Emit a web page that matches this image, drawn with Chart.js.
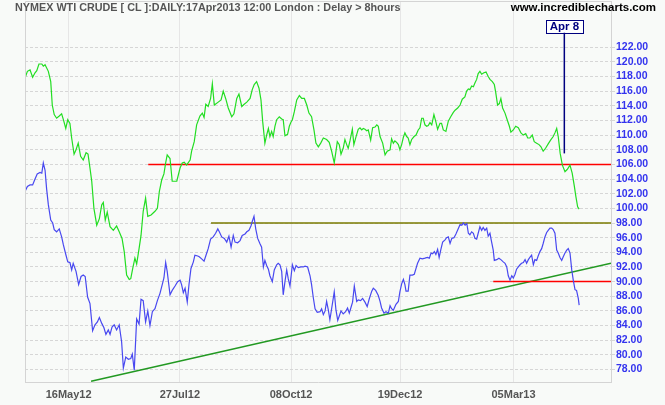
<!DOCTYPE html>
<html>
<head>
<meta charset="utf-8">
<script src="https://cdn.jsdelivr.net/npm/chart.js@4.4.1/dist/chart.umd.min.js"></script>
<style>
  html, body { margin: 0; padding: 0; background: #f8faf8; }
  canvas { display: block; }
</style>
</head>
<body>
<canvas id="crudeChart" width="665" height="405"></canvas>
<script>
// x = trading session index, 0 = 18Apr12
var tickDays = [20, 71, 122, 172, 224];
var tickLabels = ["16May12", "27Jul12", "08Oct12", "19Dec12", "05Mar13"];

var brentDays = [0,1.1,2.3,3.5,4.6,5.4,6.4,7.7,8.4,9.2,10.7,11.8,12.5,13.4,14.5,15.7,16.8,17.6,18.7,19.6,20.6,21.4,22.5,23.4,24.4,25.5,26.7,28,28.9,29.8,30.6,31.6,32.9,34.1,35.2,35.9,36.8,37.7,39,40.5,42,43.2,44.5,45.5,46.6,47.8,48.5,49.4,50.4,51.2,52.3,53.2,54.2,55.3,56.3,57.8,59.6,60.7,61.6,62.7,63.7,64.5,
  65.2,66.5,67.5,69.6,71.1,72.1,73,74.1,75.7,76.4,77.6,78.7,80.2,81.3,82.1,82.9,84,85.1,85.9,86.8,88.6,89.9,90.9,92,93.2,94.8,95.8,97.1,98.1,99.4,100.5,101.7,103.2,104.2,105.1,106.2,107.3,108.2,109,110,110.8,111.6,112.3,113.1,113.8,114.6,115.4,116.6,117.7,118.4,119.2,120.4,121.2,122,122.6,123.5,124.6,125.8,126.9,128.1,129.2,130.2,
  131.4,132.5,133.4,134.5,135.6,136.8,138.3,139.5,140.6,141.8,142.6,143.2,144.1,144.9,145.9,146.7,147.5,148.2,149,150.1,150.8,151.8,152.8,153.6,154.4,155.1,155.9,156.7,157.4,158.5,159.4,160.5,161.3,162,162.8,164,165.1,166.1,167.4,168.1,168.9,169.6,170.4,171.2,171.9,172.7,173.5,174.2,175,175.7,176.5,177.3,178.4,179.3,180.3,181.1,181.9,182.6,183.4,184.2,184.9,185.7,186.5,187.5,188.4,189.2,190.3,191,191.8,193,194.1,195.2,196.4,
  197.2,198.4,199.5,200.5,201.7,202.5,203.3,204,204.8,205.6,206.3,207.1,207.8,208.6,209.4,210.4,211.4,212.4,213.2,214.3,215.2,215.8,216.7,217.5,218.2,219,220.1,221.1,222.1,222.8,223.9,225,226.2,227.4,228.5,229.6,230.5,231.5,232.6,233.5,234.6,235.7,236.6,237.6,238.7,239.9,241,242.2,243,243.8,244.5,245.4,246.4,247.6,248.6,249.9,250.9,251.9,252.6,253.4,254.1];
var brentClose = [117.8,118.7,118.9,117.9,118.5,118.8,119.7,119.7,119.4,119.6,118.7,117.3,114.1,112.8,112.3,112.6,112.9,112.1,110.9,112.1,111.6,109.6,107.4,108,108.9,107.1,106.6,107.6,107.4,105.5,103.7,100,97.7,98.6,100.5,100.8,98.4,99.5,97.5,97,97.6,96.8,95.9,94.1,90.9,90.3,90.4,91.8,93.2,92.4,94.5,96.3,99.6,101.4,98.9,99.1,99.6,100,102.3,103.9,104.7,106.2,
  107.3,106.8,103.7,103.7,105.5,106.2,106.3,105.9,106.6,107.8,109.1,111.4,112.6,113,112.4,114.2,113.9,115,117,114.1,114.5,114.8,116,115,113.7,112.5,112.9,115,115.6,113.9,114.2,114.5,115,116.2,116.9,117.3,116.4,114.8,111.8,108.9,110,110.9,109.8,110.5,109.8,111.2,112.1,112.5,112.2,112.1,109.9,110.1,111.2,111.8,112.1,113.2,114.8,115.4,115,115,114.1,113,
  112.5,110.7,108.9,108.4,108.9,109.6,109.4,109,107.8,106.2,107.8,109.1,108.7,107.4,108.2,109.4,108.7,108.2,109.2,110.8,108.7,109.8,110.8,111,110.7,110.9,110.8,110.6,110.7,109.3,111,111.1,111.4,111.2,109.8,108.9,107.3,107.8,108,109.5,108.9,109.2,109,108.7,108,108.7,109.7,110.3,109.8,109.6,108.7,109.4,109.8,110,110.7,111,112.3,112.3,111.4,111.2,111.3,111.7,111.4,112.8,111.8,110.8,111.6,111.6,110.7,110.5,111.9,112.5,113.1,
  113.4,113.7,114.1,114.9,115.2,116,116.3,116.2,116.7,116.6,117.1,117.6,118.4,118.7,118.3,118.5,118.6,118,117.6,117.3,116.9,115.9,114.1,114.3,115,113.7,113,112.1,111.2,110.4,110.7,111.2,111,110.3,110,110.2,109.6,109.6,110,109.1,108.9,108.7,108.4,107.8,108.2,108.8,109.3,109.8,110.3,110.9,109.8,107.5,105.9,105,105.3,105.9,104.8,103,101.6,100.2,99.9];

var wtiDays = [0,1.1,2.3,3.5,4.6,5.6,6.9,7.7,8.4,9.2,9.9,10.7,11.8,12.7,13.4,14.5,15.7,16.8,17.6,18.8,19.6,20.6,21.4,22.1,23.4,24.6,25.7,26.7,27.6,28.7,29.8,31,32.1,33.2,34.1,35.2,36.2,37.1,38.2,39,39.9,40.9,42,43.2,44.3,45.1,46.2,47.4,48.5,49.2,50.1,51.2,52.3,53.2,54.2,55.3,56.3,57.3,58.4,59.6,60.7,61.9,63.1,63.7,64.5,
  65.2,66.5,67.5,68.8,70,71.1,71.8,72.6,73.4,74.4,75.2,76.1,77.2,77.9,79.2,79.9,81,82.1,83,84,85.1,86.3,87.4,88.4,89.1,90.2,91.4,92.5,93.5,94.5,95.5,96.3,97.5,98.6,99.6,100.9,101.7,102.7,103.6,104.2,105,105.8,106.7,107.7,108.5,109.3,110,110.8,111.6,112.3,113.4,114.3,115.4,116.1,116.9,117.7,118.4,119.2,120,120.7,121.5,122.6,123.5,124.3,125.3,126.5,127.6,128.4,129.6,
  130.7,131.4,132.2,133,134,135.3,136,136.8,137.6,138.3,139.1,139.8,140.6,141.8,142.6,143.4,144.1,144.9,145.9,147,147.9,148.7,149.5,150.2,151,152.1,152.8,153.9,154.8,155.9,156.9,157.9,159,159.7,160.8,162,162.8,163.5,164.6,165.5,166.6,167.4,168.1,168.9,170.1,171.2,171.9,172.7,173.5,174.2,174.7,175.7,176.5,177.6,178.5,179.3,180,181.1,182.2,183.4,184.5,185.4,186.2,186.9,187.7,188.4,189.2,189.9,190.7,191.5,192.6,193.3,194.1,194.9,195.7,196.7,
  197.6,198.5,199.5,200.3,201,201.8,202.6,203.3,204,204.8,205.6,206.3,207.1,207.8,208.6,209.4,210.1,210.9,211.7,212.4,213.2,213.9,214.7,215.2,216.3,217.3,218.2,219.3,220.1,220.9,221.6,222.4,223.2,223.9,224.7,225.4,226.2,227,227.7,228.5,229.3,230,230.8,231.5,232.3,233.1,233.8,234.6,235.3,236.1,236.9,237.6,238.4,239.2,239.9,240.7,241.5,242.2,243,243.8,244.5,245.3,246.1,246.8,247.6,248.4,249.1,249.9,250.7,251.4,252.2,252.9,253.7,254.1];
var wtiClose = [102.3,103,103.2,103.2,104,104.7,104.9,104.8,106.2,105.2,102.7,100.5,98.4,98,97.1,96.8,97.2,96.1,95,93.6,92.7,92.6,91.6,92.5,91.4,89.6,90.7,90.9,90.7,87.9,87,83.3,84.1,84.5,85.1,84.3,83.7,82.8,83.4,82.8,83.8,84.1,83.4,84.1,81.8,78.2,79.7,79.4,79.5,80.1,77.9,84.9,84.2,87.6,87.4,84.5,86,84,85.9,86.3,87.4,88.4,89.8,90.5,92.6,
  91.4,88.2,88.8,89.4,90,90.2,89.6,88.5,89.1,87.2,89.6,91.8,92.7,93.6,93.5,93.4,93.1,92.8,93.6,94.5,95.8,96.1,96.6,97.2,96.8,96.1,95.9,95.4,96.2,94.7,96.3,95.4,95.3,95.6,96.3,96.5,96.8,97,97.6,98.2,98.9,97.2,95.9,95.2,94.7,92,92.9,92.2,91.7,90.8,90,91.6,92.3,92.5,92.3,91.4,88.2,90,91.6,90.4,89.4,92.3,91.5,92.2,91.9,92,92,92.1,92,
  90.8,89.6,87.8,86.3,85.8,85.9,86.3,85.5,86,87.3,86.1,84.8,86.3,88.6,86.1,84.7,85.3,86,85.6,85.9,86.4,85.7,86.5,87.2,89.4,87.3,87.5,87.4,87.7,87.2,86.6,87.7,88.7,89.1,88.8,88.1,87.3,86.4,85.7,85.9,85.7,86.7,86.3,86.1,86.9,87.3,88.6,89.7,90.3,89.6,88.7,88.7,90.9,90.9,91,91.8,92.5,93.2,93.1,93.2,93.3,93.2,93.9,93.8,94.1,93.7,94.4,93.3,94.4,95.4,95.7,96,96.1,95.2,95.9,96,
  96.5,97.1,97.8,97.7,98,97.7,97.9,96.6,96.4,96.8,96.6,95.9,95.8,96.6,97.5,97,97.4,97,97.3,96.2,96.6,95.5,94.3,92.9,93,93.2,93,92.7,92.5,92,90.8,90.2,90.8,90.5,91,91.7,92,92.3,92.5,92.6,93,92.5,93,93.3,93.6,92.3,93,92.9,93.5,94.1,94.5,95.2,96.1,96.7,97,97.3,97.3,97.1,96.6,94.3,93.9,93.3,92.9,93.4,93.9,94.3,94.5,93.9,91.6,90.2,88.9,88.8,87.7,86.8];

// horizontal support / resistance lines: start session and level
var levelStarts = [56.5, 85.3, 214.7];
var levelValues = [106, 98, 90];
var levelColors = ["#ff0000", "#7a7a00", "#ff0000"];

// rising trend line
var trendDays = [30.3, 268.7];
var trendValues = [76.4, 92.5];

// Apr 8 marker
var markerDay = 247.3;
var markerValues = [107.5, 124.0];
var markerLabel = "Apr 8";

var xMax = 268.7;
var FONT = "'Liberation Sans', Arial, sans-serif";

function pairs(xs, ys) {
  return xs.map(function (x, i) { return { x: x, y: ys[i] }; });
}

var datasets = [
  { data: pairs(brentDays, brentClose), borderColor: "#22dd22", borderWidth: 1.2 },
  { data: pairs(wtiDays, wtiClose), borderColor: "#4848f0", borderWidth: 1.2 },
];
levelValues.forEach(function (v, i) {
  datasets.push({ data: pairs([levelStarts[i], xMax], [v, v]), borderColor: levelColors[i], borderWidth: 1.5 });
});
datasets.push({ data: pairs(trendDays, trendValues), borderColor: "#229922", borderWidth: 1.5 });
datasets.push({ data: pairs([markerDay, markerDay], markerValues), borderColor: "#000080", borderWidth: 1.5 });
datasets.forEach(function (d) {
  d.pointRadius = 0;
  d.fill = false;
  d.tension = 0;
});

var chartFrame = {
  id: "chartFrame",
  beforeDraw: function (chart) {
    var ctx = chart.ctx;
    ctx.save();
    ctx.fillStyle = "#f8faf8";
    ctx.fillRect(0, 0, chart.width, chart.height);
    ctx.restore();
  },
  afterDraw: function (chart) {
    var ctx = chart.ctx;
    var a = chart.chartArea;
    ctx.save();
    // left and top frame
    ctx.strokeStyle = "#d4d4d4";
    ctx.lineWidth = 1;
    ctx.beginPath();
    ctx.moveTo(a.left + 0.5, a.bottom);
    ctx.lineTo(a.left + 0.5, a.top + 0.5);
    ctx.lineTo(a.right, a.top + 0.5);
    ctx.stroke();

    // header texts
    ctx.textBaseline = "middle";
    ctx.font = "bold 10.8px " + FONT;
    ctx.fillStyle = "#555555";
    ctx.textAlign = "left";
    ctx.fillText("NYMEX WTI CRUDE [ CL ]:DAILY:17Apr2013 12:00 London : Delay > 8hours", 15, 8);
    ctx.font = "bold 11.5px " + FONT;
    ctx.fillStyle = "#000000";
    ctx.textAlign = "right";
    ctx.fillText("www.incrediblecharts.com", 656, 8);

    // Apr 8 label box
    var px = chart.scales.x.getPixelForValue(markerDay);
    var py = chart.scales.y.getPixelForValue(markerValues[1]);
    ctx.font = "bold 11.5px " + FONT;
    var w = ctx.measureText(markerLabel).width + 8;
    var h = 13;
    ctx.fillStyle = "#ffffff";
    ctx.fillRect(px - w / 2, py - h, w, h);
    ctx.strokeStyle = "#000080";
    ctx.lineWidth = 1;
    ctx.strokeRect(Math.round(px - w / 2) + 0.5, Math.round(py - h) + 0.5, Math.round(w), h);
    ctx.fillStyle = "#000080";
    ctx.textAlign = "center";
    ctx.fillText(markerLabel, px, py - h / 2 + 0.5);
    ctx.restore();
  },
};

var ctx = document.getElementById("crudeChart").getContext("2d");
var crudeChart = new Chart(ctx, {
  type: "line",
  data: { datasets: datasets },
  options: {
    responsive: false,
    animation: false,
    devicePixelRatio: 1,
    layout: { padding: { left: 25, top: 1, right: 0, bottom: 0 } },
    plugins: { legend: { display: false }, tooltip: { enabled: false } },
    scales: {
      x: {
        type: "linear",
        min: 0,
        max: xMax,
        afterBuildTicks: function (scale) {
          scale.ticks = tickDays.map(function (v) { return { value: v }; });
        },
        afterFit: function (scale) {
          scale.height = 23;
          scale.paddingLeft = 0;
          scale.paddingRight = 0;
        },
        grid: { color: "#e6e6e6", drawTicks: false },
        border: { color: "#d4d4d4" },
        ticks: {
          autoSkip: false,
          maxRotation: 0,
          padding: 6,
          color: "#555555",
          font: { family: FONT, size: 11, weight: "bold" },
          callback: function (v) { return tickLabels[tickDays.indexOf(v)]; },
        },
      },
      y: {
        position: "right",
        min: 76.3,
        max: 128.3,
        afterBuildTicks: function (scale) {
          var t = [];
          for (var v = 78; v <= 122; v += 2) t.push({ value: v });
          scale.ticks = t;
        },
        afterFit: function (scale) {
          scale.width = 54;
          scale.paddingTop = 0;
          scale.paddingBottom = 0;
        },
        grid: { color: "#d6d6d6", tickLength: 4, tickBorderDash: [3, 2] },
        border: { color: "#d4d4d4", dash: [3, 2] },
        ticks: {
          padding: 1,
          color: "#3333ee",
          font: { family: FONT, size: 10.5, weight: "bold" },
          callback: function (v) { return v.toFixed(2); },
        },
      },
    },
  },
  plugins: [chartFrame],
});
</script>
</body>
</html>
